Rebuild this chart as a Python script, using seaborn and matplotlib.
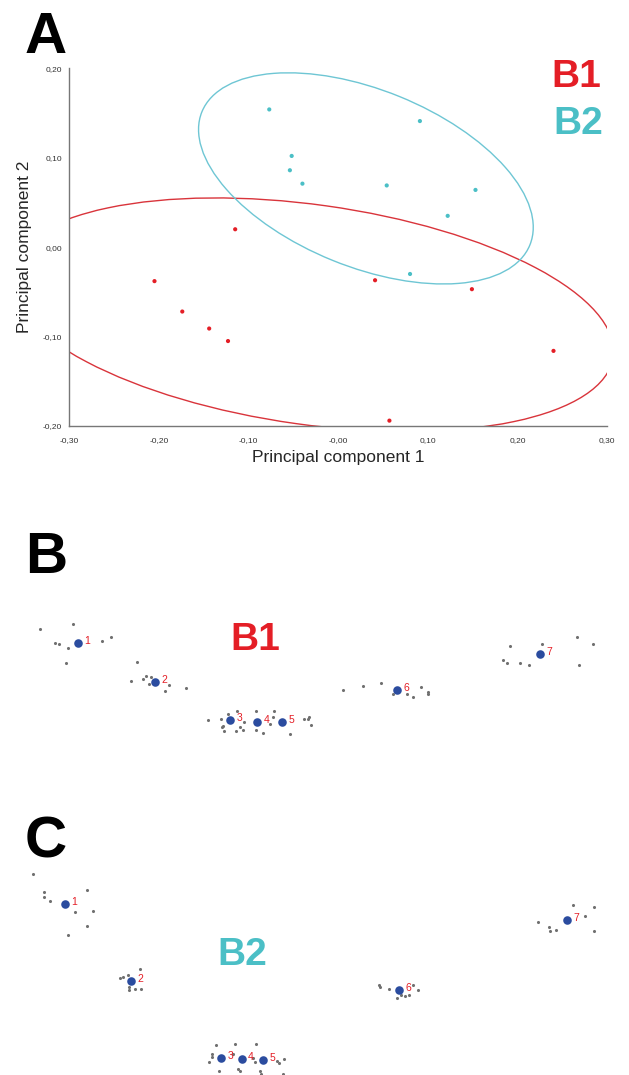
import numpy as np
import pandas as pd
import matplotlib
matplotlib.use('Agg')
import matplotlib.pyplot as plt
from matplotlib.patches import Ellipse
import seaborn as sns

sns.set_style("white")
plt.rcParams['font.family'] = ['Liberation Sans', 'DejaVu Sans']

RED = '#e41e26'
CYAN = '#4bbfc6'
ELL_CYAN = '#6ec6d4'
ELL_RED = '#d9343b'
BLUE = '#2b4c9f'
GREY = '#707070'

# PCA scores (panel A)
b1_pc1 = [-0.115, -0.205, -0.174, -0.144, -0.123, 0.041, 0.149, 0.240, 0.057]
b1_pc2 = [0.020, -0.038, -0.072, -0.091, -0.105, -0.037, -0.047, -0.116, -0.194]
b2_pc1 = [-0.077, -0.052, -0.054, -0.040, 0.091, 0.054, 0.153, 0.122, 0.080]
b2_pc2 = [0.154, 0.102, 0.086, 0.071, 0.141, 0.069, 0.064, 0.035, -0.030]

xticks = [-0.30, -0.20, -0.10, 0.00, 0.10, 0.20, 0.30]
xticklabels = ['-0,30', '-0,20', '-0,10', '-0,00', '0,10', '0,20', '0,30']
yticks = [-0.20, -0.10, 0.00, 0.10, 0.20]
yticklabels = ['-0,20', '-0,10', '0,00', '0,10', '0,20']

# landmark configurations (panels B and C), page units
b_grey_x = [40, 73, 55, 59, 68, 66, 102, 111,
            137, 131, 143, 146, 151, 149, 169, 165, 186,
            208, 221, 228, 237, 222, 223, 224, 236, 240, 244, 243, 256, 256, 263,
            270, 273, 274, 290, 304, 308, 309, 311,
            343, 363, 381, 393, 407, 413, 421, 428, 428,
            510, 503, 507, 520, 529, 542, 577, 593, 579]
b_grey_y = [629, 624, 643, 644, 648, 663, 641, 637,
            662, 681, 679, 676, 677, 684, 685, 691, 688,
            720, 719, 714, 711, 727, 726, 731, 731, 727, 722, 730, 711, 730, 733,
            724, 717, 711, 734, 719, 719, 717, 725,
            690, 686, 683, 694, 694, 697, 687, 692, 694,
            646, 660, 663, 663, 665, 644, 637, 644, 665]
b_mean_x = [78, 155, 230, 257, 282, 397, 540]
b_mean_y = [643, 682, 720, 722, 722, 690, 654]

c_grey_x = [33, 44, 44, 50, 87, 75, 93, 87, 68,
            140, 120, 123, 128, 129, 129, 135, 141,
            216, 235, 256, 212, 212, 209, 219, 233, 238, 240, 253, 255, 260, 261,
            277, 279, 284, 283,
            379, 380, 389, 397, 401, 405, 409, 413, 418,
            538, 549, 550, 556, 573, 585, 594, 594]
c_grey_y = [874, 892, 897, 901, 890, 912, 911, 926, 935,
            969, 978, 977, 975, 987, 990, 989, 989,
            1045, 1044, 1044, 1054, 1057, 1062, 1071, 1054, 1069, 1071, 1058, 1062, 1071, 1074,
            1061, 1063, 1059, 1074,
            985, 987, 989, 998, 995, 996, 995, 985, 990,
            922, 927, 931, 930, 905, 916, 907, 931]
c_mean_x = [65, 131, 221, 242, 263, 399, 567]
c_mean_y = [904, 981, 1058, 1059, 1060, 990, 920]
landmark_ids = ['1', '2', '3', '4', '5', '6', '7']

W, H = 629, 1075
fig = plt.figure(figsize=(W / 100, H / 100), dpi=100)


def rect(x0, y0, x1, y1):
    return [x0 / W, 1 - y1 / H, (x1 - x0) / W, (y1 - y0) / H]


# ---- panel A
ax = fig.add_axes(rect(69.3, 68.3, 607.3, 426))
df = pd.DataFrame({
    'pc1': b1_pc1 + b2_pc1,
    'pc2': b1_pc2 + b2_pc2,
    'group': ['B1'] * len(b1_pc1) + ['B2'] * len(b2_pc1),
})
sns.scatterplot(data=df, x='pc1', y='pc2', hue='group',
                palette={'B1': RED, 'B2': CYAN}, s=9, linewidth=0,
                legend=False, ax=ax, zorder=3)

# 90% confidence ellipses
k = np.sqrt(-2 * np.log(1 - 0.90))
for gx, gy, col in [(b1_pc1, b1_pc2, ELL_RED), (b2_pc1, b2_pc2, ELL_CYAN)]:
    cov = np.cov(gx, gy)
    vals, vecs = np.linalg.eigh(cov)
    ang = np.degrees(np.arctan2(vecs[1, 1], vecs[0, 1]))
    e = Ellipse((np.mean(gx), np.mean(gy)), 2 * k * np.sqrt(vals[1]),
                2 * k * np.sqrt(vals[0]), angle=ang, fill=False,
                edgecolor=col, linewidth=1.0)
    ax.add_patch(e)

ax.set_xlim(-0.30, 0.30)
ax.set_ylim(-0.20, 0.20)
ax.set_xticks(xticks)
ax.set_xticklabels(xticklabels)
ax.set_yticks(yticks)
ax.set_yticklabels(yticklabels)
ax.tick_params(axis='both', labelsize=6, length=3, width=0.8,
               color='#777777', labelcolor='#333333', direction='out', pad=2)
ax.tick_params(axis='x', pad=5)
for s in ['top', 'right']:
    ax.spines[s].set_visible(False)
for s in ['left', 'bottom']:
    ax.spines[s].set_color('#777777')
    ax.spines[s].set_linewidth(1.0)
ax.set_xlabel('Principal component 1', fontsize=12.5, labelpad=4)
ax.set_ylabel('Principal component 2', fontsize=12.5, labelpad=8)

fig.text(576 / W, 1 - 87 / H, 'B1', color=RED, fontsize=28, fontweight='bold',
         ha='center', va='baseline')
fig.text(578 / W, 1 - 134 / H, 'B2', color=CYAN, fontsize=28, fontweight='bold',
         ha='center', va='baseline')


# ---- panels B and C
def landmarks(y0, y1, gx, gy, mx, my):
    a = fig.add_axes(rect(0, y0, W, y1))
    sns.scatterplot(x=gx, y=gy, color=GREY, s=5, linewidth=0, ax=a)
    sns.scatterplot(x=mx, y=my, color=BLUE, s=38, linewidth=0, ax=a, zorder=3)
    for lx, ly, t in zip(mx, my, landmark_ids):
        a.annotate(t, (lx, ly), xytext=(4.5, 1.5), textcoords='offset points',
                   color=RED, fontsize=7.5, ha='left', va='center')
    a.set_xlim(0, W)
    a.set_ylim(y1, y0)
    a.axis('off')
    return a


landmarks(590, 760, b_grey_x, b_grey_y, b_mean_x, b_mean_y)
landmarks(850, 1075, c_grey_x, c_grey_y, c_mean_x, c_mean_y)

fig.text(255 / W, 1 - 650 / H, 'B1', color=RED, fontsize=28, fontweight='bold',
         ha='center', va='baseline')
fig.text(242 / W, 1 - 965 / H, 'B2', color=CYAN, fontsize=28, fontweight='bold',
         ha='center', va='baseline')

for letter, px, py in [('A', 46, 53), ('B', 46, 573), ('C', 46, 857)]:
    fig.text(px / W, 1 - py / H, letter, fontsize=42, fontweight='bold',
             color='black', ha='center', va='baseline')

fig.savefig('out.png', dpi=100)
